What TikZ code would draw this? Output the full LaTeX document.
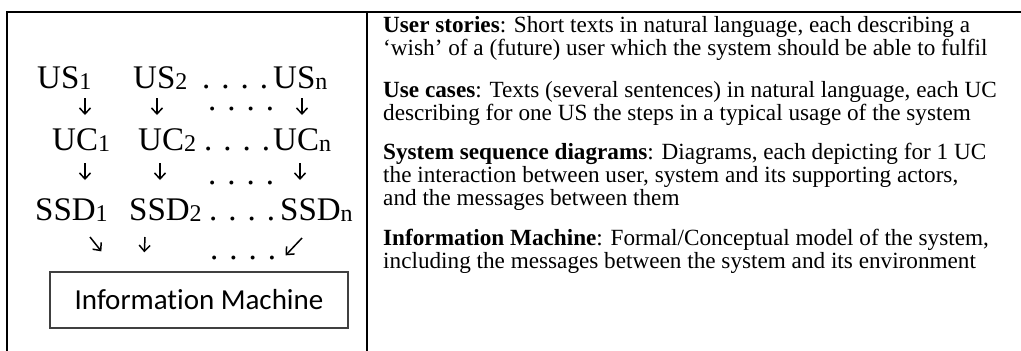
\documentclass[tikz,border=0pt]{standalone}
\usepackage{fontspec}
\setmainfont{Liberation Serif}
\newfontfamily\calibri[Ligatures=NoCommon]{Carlito}
\usetikzlibrary{arrows.meta}

\newcommand{\idx}[1]{\raisebox{-1.5pt}{\fontsize{24}{24}\selectfont #1}}

\begin{document}
\begin{tikzpicture}[x=1pt, y=-1pt,
    frame/.style={line width=2.5pt, line cap=rect},
    item/.style={inner sep=0pt, anchor=base west, font=\fontsize{33}{33}\selectfont},
    arr/.style={line width=1.5pt, -{Straight Barb[length=6pt, width=11pt]}},
    desc/.style={inner sep=0pt, anchor=base west, align=left, font=\fontsize{23.2}{23}\selectfont},
    imbox/.style={draw=black!75, line width=1.3pt, minimum width=298pt, minimum height=56pt,
        inner sep=0pt, font=\calibri\fontsize{29}{29}\selectfont}]
    \useasboundingbox (0,0) rectangle (1021,351);

    % Draw the frame of the table
    \draw[frame] (1021,12) -- (7,12) -- (7,351);
    \draw[frame] (367,12) -- (367,351); % Draw the divider

    % Draw the first row: user stories
    \node[item] (us1) at (37,88) {US\idx{1}};
    \node[item] (us2) at (133,88) {US\idx{2}};
    \node[item] (usdots) at (202,88) {. . . .};
    \node[item] (usn) at (273,88) {US\idx{n}};

    % Draw the second row: use cases
    \node[item] (uc1) at (52,150) {UC\idx{1}};
    \node[item] (uc2) at (138,150) {UC\idx{2}};
    \node[item] (ucdots) at (204,150) {. . . .};
    \node[item] (ucn) at (273,150) {UC\idx{n}};

    % Draw the third row: system sequence diagrams
    \node[item] (ssd1) at (35,220) {SSD\idx{1}};
    \node[item] (ssd2) at (129,220) {SSD\idx{2}};
    \node[item] (ssddots) at (209,220) {. . . .};
    \node[item] (ssdn) at (280,220) {SSD\idx{n}};

    % Draw the dots between the arrows
    \node[item] (dotsa) at (208,110) {. . . .};
    \node[item] (dotsb) at (208,184) {. . . .};
    \node[item] (dotsc) at (210,259) {. . . .};

    % Draw the information machine
    \node[imbox] (im) at (199,300) {Information Machine};

    % Draw the arrows from user stories to use cases
    \draw[arr] ([xshift=48pt,yshift=-10pt]us1.base west) -- ([xshift=33pt,yshift=35pt]uc1.base west);
    \draw[arr] ([xshift=24pt,yshift=-10pt]us2.base west) -- ([xshift=19pt,yshift=35pt]uc2.base west);
    \draw[arr] ([xshift=29pt,yshift=-10pt]usn.base west) -- ([xshift=29pt,yshift=35pt]ucn.base west);

    % Draw the arrows from use cases to diagrams
    \draw[arr] ([xshift=33pt,yshift=-13pt]uc1.base west) -- ([xshift=50pt,yshift=40pt]ssd1.base west);
    \draw[arr] ([xshift=22pt,yshift=-13pt]uc2.base west) -- ([xshift=31pt,yshift=40pt]ssd2.base west);
    \draw[arr] ([xshift=27pt,yshift=-13pt]ucn.base west) -- ([xshift=20pt,yshift=40pt]ssdn.base west);

    % Draw the arrows into the information machine
    \draw[arr] ([xshift=55pt,yshift=-17pt]ssd1.base west) -- ([xshift=52pt,yshift=20pt]im.north west);
    \draw[arr] ([xshift=16pt,yshift=-17pt]ssd2.base west) -- ([xshift=95pt,yshift=19pt]im.north west);
    \draw[arr] ([xshift=22pt,yshift=-18pt]ssdn.base west) -- ([xshift=-63pt,yshift=16pt]im.north east);

    % Draw the descriptions on the right (base is the last line)
    \node[desc] (stories) at (383,55) {\textbf{User stories}: Short texts in natural language, each describing a\\‘wish’ of a (future) user which the system should be able to fulfil};
    \node[desc] (cases) at (383,120) {\textbf{Use cases}: Texts (several sentences) in natural language, each UC\\describing for one US the steps in a typical usage of the system};
    \node[desc] (ssds) at (383,205) {\textbf{System sequence diagrams}: Diagrams, each depicting for 1 UC\\the interaction between user, system and its supporting actors,\\and the messages between them};
    \node[desc] (imtext) at (383,268) {\textbf{Information Machine}: Formal/Conceptual model of the system,\\including the messages between the system and its environment};
\end{tikzpicture}
\end{document}
